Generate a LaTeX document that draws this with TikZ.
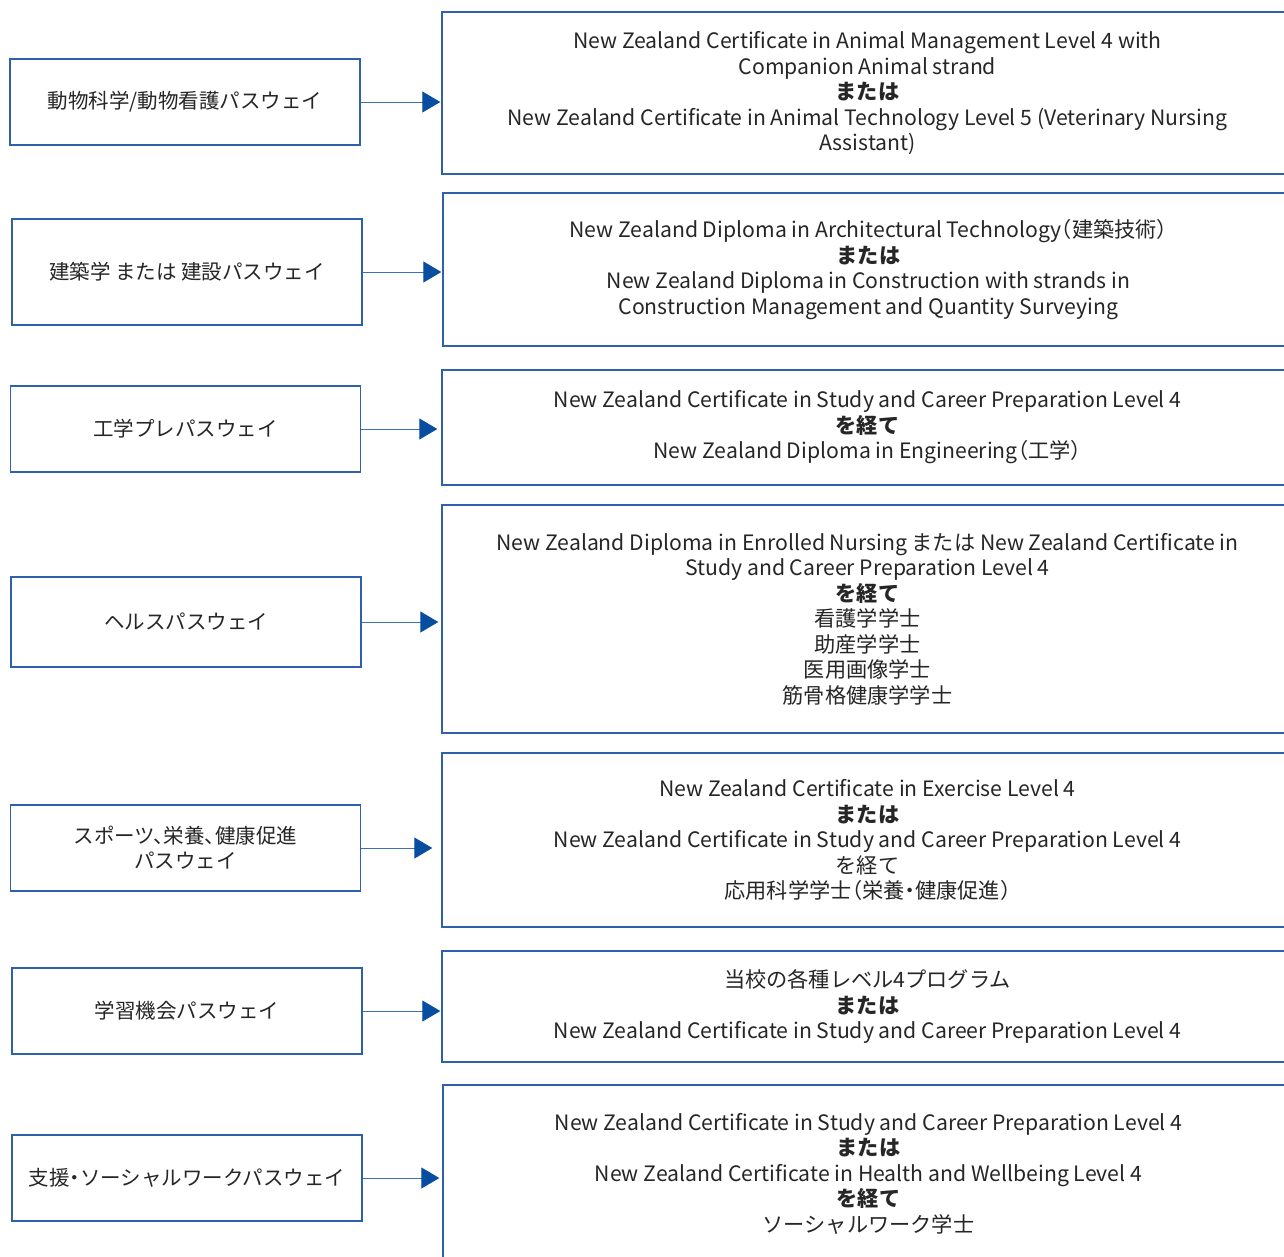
\documentclass[tikz,border=0pt]{standalone}
\usepackage{fontspec}
\setmainfont{Noto Sans CJK JP}[RawFeature=+halt]
\usetikzlibrary{arrows.meta}
\definecolor{boxblue}{RGB}{47,96,172}
\definecolor{linkblue}{RGB}{60,110,185}
\definecolor{tipblue}{RGB}{8,78,160}
\tikzset{
  leftbox/.style={draw=boxblue, line width=1.4pt, minimum width=350pt, inner sep=0pt, align=center,
    font=\fontsize{20.5}{25}\selectfont, text=black!85},
  rightbox/.style={draw=boxblue, line width=1.4pt, minimum width=851pt, inner sep=0pt, align=center,
    font=\fontsize{21.2}{25.5}\selectfont, text=black!85},
  link/.style={draw=linkblue, line width=1pt, -{Triangle[length=18pt,width=21pt,fill=tipblue,color=tipblue]}}
}
\begin{document}
\begin{tikzpicture}[x=1pt,y=-1pt]
\clip (0,0) rectangle (1284,1256);
\fill[white] (0,0) rectangle (1284,1256);
% left boxes
\node[leftbox, minimum height=86pt]  (L1) at (185,102)   {動物科学/動物看護パスウェイ};
\node[leftbox, minimum height=106pt] (L2) at (187,272)   {建築学 または 建設パスウェイ};
\node[leftbox, minimum height=86pt]  (L3) at (185.5,429) {工学プレパスウェイ};
\node[leftbox, minimum height=90pt]  (L4) at (186,622)   {ヘルスパスウェイ};
\node[leftbox, minimum height=86pt]  (L5) at (185.5,848) {スポーツ、栄養、健康促進\\パスウェイ};
\node[leftbox, minimum height=86pt]  (L6) at (187,1011)  {学習機会パスウェイ};
\node[leftbox, minimum height=86pt]  (L7) at (187,1178)  {支援・ソーシャルワークパスウェイ};
% right boxes
\node[rightbox, minimum height=162pt] (R1) at (867.5,93) {New Zealand Certificate in Animal Management Level 4 with\\Companion Animal strand\\\textbf{または}\\New Zealand Certificate in Animal Technology Level 5 (Veterinary Nursing\\Assistant)};
\node[rightbox, minimum height=153pt] (R2) at (868.5,269.5) {New Zealand Diploma in Architectural Technology（建築技術）\\\textbf{または}\\New Zealand Diploma in Construction with strands in\\Construction Management and Quantity Surveying};
\node[rightbox, minimum height=115pt] (R3) at (867.5,427.5) {New Zealand Certificate in Study and Career Preparation Level 4\\\textbf{を経て}\\New Zealand Diploma in Engineering（工学）};
\node[rightbox, minimum height=228pt] (R4) at (867.5,619) {New Zealand Diploma in Enrolled Nursing または New Zealand Certificate in\\Study and Career Preparation Level 4\\\textbf{を経て}\\看護学学士\\助産学学士\\医用画像学士\\筋骨格健康学学士};
\node[rightbox, minimum height=174pt] (R5) at (867.5,840) {New Zealand Certificate in Exercise Level 4\\\textbf{または}\\New Zealand Certificate in Study and Career Preparation Level 4\\を経て\\応用科学学士（栄養・健康促進）};
\node[rightbox, minimum height=111pt] (R6) at (867.5,1006.5) {当校の各種レベル4プログラム\\\textbf{または}\\New Zealand Certificate in Study and Career Preparation Level 4};
\node[rightbox, minimum height=177pt] (R7) at (868.5,1173.5) {New Zealand Certificate in Study and Career Preparation Level 4\\\textbf{または}\\New Zealand Certificate in Health and Wellbeing Level 4\\\textbf{を経て}\\ソーシャルワーク学士};
% connectors
\draw[link, shorten >=1pt] (L1.east) -- (L1.east -| R1.west);
\draw[link, shorten >=1pt] (L2.east) -- (L2.east -| R2.west);
\draw[link, shorten >=4pt] (L3.east) -- (L3.east -| R3.west);
\draw[link, shorten >=3pt] (L4.east) -- (L4.east -| R4.west);
\draw[link, shorten >=9pt] (L5.east) -- (L5.east -| R5.west);
\draw[link, shorten >=1pt] (L6.east) -- (L6.east -| R6.west);
\draw[link, shorten >=3pt] (L7.east) -- (L7.east -| R7.west);
\end{tikzpicture}
\end{document}
